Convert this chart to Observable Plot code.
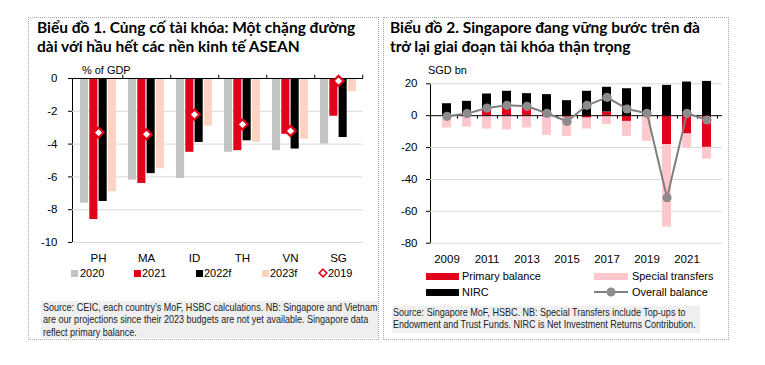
<!DOCTYPE html>
<html><head><meta charset="utf-8">
<script src="https://cdn.jsdelivr.net/npm/d3@7"></script>
<script src="https://cdn.jsdelivr.net/npm/@observablehq/plot@0.6"></script>
<style>
body{margin:0;background:#fff;}
#root{position:relative;width:765px;height:365px;background:#fff;font-family:"Liberation Sans",Arial,sans-serif;color:#000;overflow:hidden}
.panel{position:absolute;border:1px dotted #a6a6a6;box-sizing:border-box}
.title{position:absolute;font-family:Lato,sans-serif;font-weight:700;font-size:15.5px;line-height:19px;white-space:nowrap;color:#000}
.lab{position:absolute;font-size:11.5px;line-height:12px;white-space:nowrap;transform:scaleX(0.95);transform-origin:left center}
.srcbox{position:absolute;background:#efefef}
.src{position:absolute;font-size:10.5px;white-space:nowrap;color:#222;transform:scaleX(0.86);transform-origin:left top}
.sw{position:absolute}
.chart{position:absolute}
</style></head><body><div id="root">
<div class="panel" style="left:28px;top:17px;width:351px;height:323px"></div>
<div class="panel" style="left:383px;top:17px;width:346px;height:323px"></div>
<div class="title" style="left:37px;top:18px">Biểu đồ 1. Củng cố tài khóa: Một chặng đường<br>dài với hầu hết các nền kinh tế ASEAN</div>
<div class="title" style="left:390px;top:18px">Biểu đồ 2. Singapore đang vững bước trên đà<br>trở lại giai đoạn tài khóa thận trọng</div>
<div class="lab" style="left:82px;top:64px">% of GDP</div>
<div class="lab" style="left:428px;top:64px">SGD bn</div>
<div id="c1" class="chart" style="left:28px;top:60px"></div>
<div id="c2" class="chart" style="left:383px;top:60px"></div>
<div id="leg1"></div>
<div id="leg2"></div>
<div class="srcbox" style="left:41px;top:301px;width:337px;height:37px"></div>
<div class="src" style="left:43px;top:301px;line-height:12.4px">Source: CEIC, each country’s MoF, HSBC calculations. NB: Singapore and Vietnam<br>are our projections since their 2023 budgets are not yet available. Singapore data<br>reflect primary balance.</div>
<div class="srcbox" style="left:392px;top:306px;width:308px;height:27px"></div>
<div class="src" style="left:393px;top:306px;line-height:12.4px">Source: Singapore MoF, HSBC. NB: Special Transfers include Top-ups to<br>Endowment and Trust Funds. NIRC is Net Investment Returns Contribution.</div>
</div>
<script>
// ---- Chart 1 data ----
const countries = ["PH","MA","ID","TH","VN","SG"];
const bal2020  = [-7.6,-6.2,-6.1,-4.5,-4.4,-4.0];
const bal2021  = [-8.6,-6.4,-4.5,-4.4,-3.4,-2.3];
const bal2022f = [-7.5,-5.8,-3.9,-3.8,-4.3,-3.6];
const bal2023f = [-6.9,-5.5,-2.9,-3.9,-3.7,-0.8];
const bal2019  = [-3.3,-3.4,-2.2,-2.8,-3.2,-0.15];
const yTicks1 = [0,-2,-4,-6,-8,-10];
const legend1Labels = ["2020","2021","2022f","2023f","2019"];

// ---- Chart 2 data ----
const years = [2009,2010,2011,2012,2013,2014,2015,2016,2017,2018,2019,2020,2021,2022];
const yearTicks = [2009,2011,2013,2015,2017,2019,2021];
const primaryBalance   = [0,0,3.8,5.0,4.8,2.0,-1.0,-1.5,2.3,-3.6,0,-18.2,-11.5,-19.9];
const nirc             = [7.5,9.0,9.8,10.3,9.0,11.2,9.4,15.3,15.5,16.9,17.8,19.0,21.1,21.5];
const specialTransfers = [-7.7,-7.1,-8.4,-9.0,-7.7,-12.3,-12.0,-6.9,-5.6,-9.4,-16.1,-51.7,-8.6,-7.3];
const overallBalance   = [-0.4,1.3,4.8,6.5,5.9,1.5,-3.6,6.5,11.5,4.2,1.5,-51.5,1.5,-2.7];
const yTicks2 = [20,0,-20,-40,-60,-80];
const seriesNames2 = ["Primary balance","NIRC","Special transfers","Overall balance"];

const RED="#e2001a", GRAY="#c3c3c3", BLACK="#000000", PEACH="#fcd3c1", PINK="#ffc8cc", LINEGRAY="#7f7f7f", DOTGRAY="#8c8c8c", GRID="#d9d9d9";

// ---------- Chart 1 ----------
{
  const W=350,H=210,ml=44,mr=15,mt=18,mb=28;
  const step=(W-ml-mr)/countries.length;
  const barW=8.6, gap=9.3, off=6;
  const sets=[[bal2020,GRAY],[bal2021,RED],[bal2022f,BLACK],[bal2023f,PEACH]];
  const marks=[Plot.ruleY(yTicks1.filter(d=>d!==0),{stroke:GRID})];
  sets.forEach(([vals,col],i)=>{
    const rows=countries.map((c,j)=>({c,v:vals[j]}));
    const il=off+i*gap;
    marks.push(Plot.barY(rows,{x:"c",y:"v",fill:col,insetLeft:il,insetRight:step-il-barW}));
  });
  marks.push(Plot.ruleY([0],{stroke:"#000"}));
  marks.push(Plot.ruleX(countries,{x:d=>d,dx:step/2,y1:0,y2:0.2,stroke:"#000"}));
  marks.push(Plot.dot(countries.map((c,j)=>({c,v:bal2019[j]})),{x:"c",y:"v",symbol:"diamond2",r:4.6,fill:"white",stroke:RED,strokeWidth:2.2}));
  const p=Plot.plot({width:W,height:H,marginLeft:ml,marginRight:mr,marginTop:mt,marginBottom:mb,
    style:{fontFamily:"Liberation Sans, Arial, sans-serif",fontSize:"11.5px",color:"#000",background:"transparent",overflow:"visible"},
    x:{type:"band",domain:countries,padding:0,tickSize:0,tickPadding:11,label:null},
    y:{domain:[-10,0],ticks:yTicks1,tickSize:4,tickPadding:11,line:true,label:null,tickFormat:d=>String(d)},
    marks});
  document.getElementById("c1").appendChild(p);
}
// ---------- Chart 2 ----------
{
  const W=345,H=210,ml=47,mr=6,mt=23.3,mb=27.3;
  const pi=0.55,po=0.275;
  const step=(W-ml-mr)/(years.length-pi+2*po);
  const rows=[];
  years.forEach((y,i)=>{
    rows.push({year:y,s:seriesNames2[0],v:primaryBalance[i]});
    rows.push({year:y,s:seriesNames2[1],v:nirc[i]});
    rows.push({year:y,s:seriesNames2[2],v:specialTransfers[i]});
  });
  const ov=years.map((y,i)=>({year:y,v:overallBalance[i]}));
  const p=Plot.plot({width:W,height:H,marginLeft:ml,marginRight:mr,marginTop:mt,marginBottom:mb,
    style:{fontFamily:"Liberation Sans, Arial, sans-serif",fontSize:"11.5px",color:"#000",background:"transparent",overflow:"visible"},
    x:{type:"band",domain:years,paddingInner:pi,paddingOuter:po,ticks:yearTicks,tickFormat:d=>String(d),tickSize:0,tickPadding:12,label:null},
    y:{domain:[-80,20],ticks:yTicks2,tickSize:4,tickPadding:9,line:true,label:null,tickFormat:d=>String(d)},
    color:{domain:seriesNames2.slice(0,3),range:[RED,BLACK,PINK]},
    marks:[
      Plot.ruleY(yTicks2.filter(d=>d!==0),{stroke:GRID}),
      Plot.barY(rows,{x:"year",y:"v",fill:"s",order:seriesNames2.slice(0,3)}),
      Plot.ruleY([0],{stroke:"#000"}),
      Plot.ruleX(years,{x:d=>d,dx:step/2,y1:0,y2:-2.2,stroke:"#000"}),
      Plot.line(ov,{x:"year",y:"v",stroke:LINEGRAY,strokeWidth:2}),
      Plot.dot(ov,{x:"year",y:"v",r:4.6,fill:DOTGRAY,stroke:"none"})
    ]});
  document.getElementById("c2").appendChild(p);
}
// ---------- Legends ----------
{
  const L=document.getElementById("leg1");
  const items=[[GRAY,71,80],[RED,134,142],[BLACK,196,204],[PEACH,262,270]];
  items.forEach(([col,sx,tx],i)=>{
    L.insertAdjacentHTML("beforeend",`<div class="sw" style="left:${sx}px;top:270px;width:7px;height:7px;background:${col}"></div><div class="lab" style="left:${tx}px;top:267px">${legend1Labels[i]}</div>`);
  });
  L.insertAdjacentHTML("beforeend",`<svg class="sw" style="left:318px;top:268px" width="10" height="10"><path d="M5,1.2L8.8,5L5,8.8L1.2,5Z" fill="#fff" stroke="${RED}" stroke-width="1.6"/></svg><div class="lab" style="left:328px;top:267px">${legend1Labels[4]}</div>`);
}
{
  const L=document.getElementById("leg2");
  L.insertAdjacentHTML("beforeend",
   `<div class="sw" style="left:426px;top:273px;width:33px;height:7px;background:${RED}"></div><div class="lab" style="left:462px;top:270px">${seriesNames2[0]}</div>`+
   `<div class="sw" style="left:594px;top:273px;width:34px;height:7px;background:${PINK}"></div><div class="lab" style="left:632px;top:270px">${seriesNames2[2]}</div>`+
   `<div class="sw" style="left:426px;top:289px;width:33px;height:7px;background:${BLACK}"></div><div class="lab" style="left:462px;top:286px">${seriesNames2[1]}</div>`+
   `<svg class="sw" style="left:594px;top:286px" width="35" height="12"><line x1="0" y1="6" x2="34" y2="6" stroke="${LINEGRAY}" stroke-width="2"/><circle cx="17" cy="6" r="4.5" fill="${DOTGRAY}"/></svg><div class="lab" style="left:632px;top:286px">${seriesNames2[3]}</div>`);
}
</script>
</body></html>
